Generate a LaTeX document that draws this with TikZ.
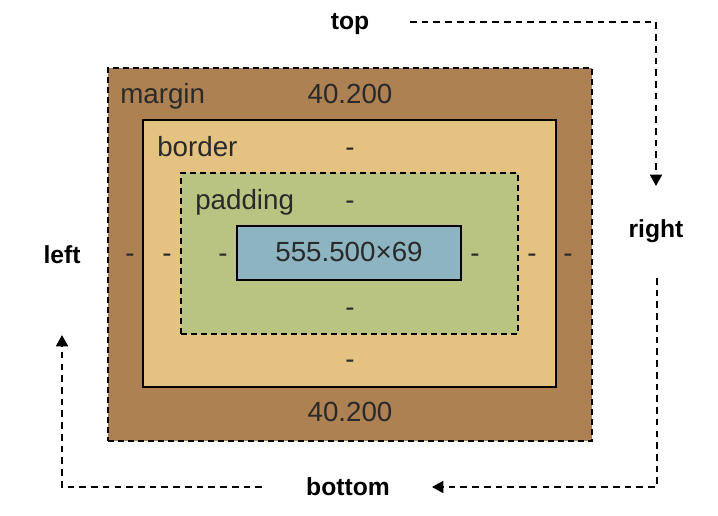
\documentclass[tikz,border=0pt]{standalone}
\usepackage{fontspec}
\setmainfont{Liberation Sans}
\usetikzlibrary{fit,arrows.meta}
\definecolor{cmargin}{HTML}{AE8152}
\definecolor{cborder}{HTML}{E4C282}
\definecolor{cpadding}{HTML}{B9C482}
\definecolor{ccontent}{HTML}{8CB4C1}
\definecolor{ctext}{HTML}{2A2A2A}
\tikzset{
  boxdash/.style={draw=black, line width=1.9pt, dash pattern=on 4.5pt off 3pt, inner sep=0pt},
  boxsolid/.style={draw=black, line width=1.9pt, inner sep=0pt},
  val/.style={text=ctext, font=\fontsize{20.8}{24}\selectfont, inner sep=0pt, anchor=base},
  lab/.style={font=\bfseries\fontsize{18.5}{22}\selectfont, inner sep=0pt, anchor=base},
  arr/.style={line width=1.3pt, dash pattern=on 5pt off 3.8pt, -{Triangle[length=8.5pt,width=9pt]}},
}
\begin{document}
\begin{tikzpicture}[x=0.75pt,y=-0.75pt]
\useasboundingbox (0,0) rectangle (718,516);
% boxes
\node[boxdash, fill=cmargin, fit={(108,68) (592,441)}] (margin) {};
\node[boxsolid, fill=cborder, fit={(143,120) (556,387)}] (border) {};
\node[boxdash, fill=cpadding, fit={(181,173) (518,334)}] (padding) {};
\node[boxsolid, fill=ccontent, fit={(237,226) (461,280)}] (content) {};
% texts
\node[val, anchor=base west] (tm) at (120,104) {margin};
\node[val] (mt) at (350,104) {40.200};
\node[val, anchor=base west] (tb) at (157,157) {border};
\node[val] (bt) at (350,157) {-};
\node[val, anchor=base west] (tp) at (195,210) {padding};
\node[val] (pt) at (350,210) {-};
\node[val] (cv) at (349,262) {555.500×69};
\node[val] (ml) at (130,263) {-};
\node[val] (bl) at (167,263) {-};
\node[val] (pl) at (223,263) {-};
\node[val] (pr) at (475,263) {-};
\node[val] (br) at (532,263) {-};
\node[val] (mr) at (568,263) {-};
\node[val] (pb) at (350,317) {-};
\node[val] (bb) at (350,369) {-};
\node[val] (mb) at (350,422) {40.200};
% outer labels
\node[lab] (top) at (350,30) {top};
\node[lab] (right) at (656,238) {right};
\node[lab] (bottom) at (348,496) {bottom};
\node[lab] (left) at (62,264) {left};
% connectors
\coordinate (ts) at (410,22);
\coordinate (te) at (656,186);
\coordinate (rs) at (657,278);
\coordinate (re) at (432,487);
\coordinate (bs) at (262,487);
\coordinate (be) at (62,335);
\draw[arr] (ts) -| (te);
\draw[arr] (rs) |- (re);
\draw[arr] (bs) -| (be);
\end{tikzpicture}
\end{document}
